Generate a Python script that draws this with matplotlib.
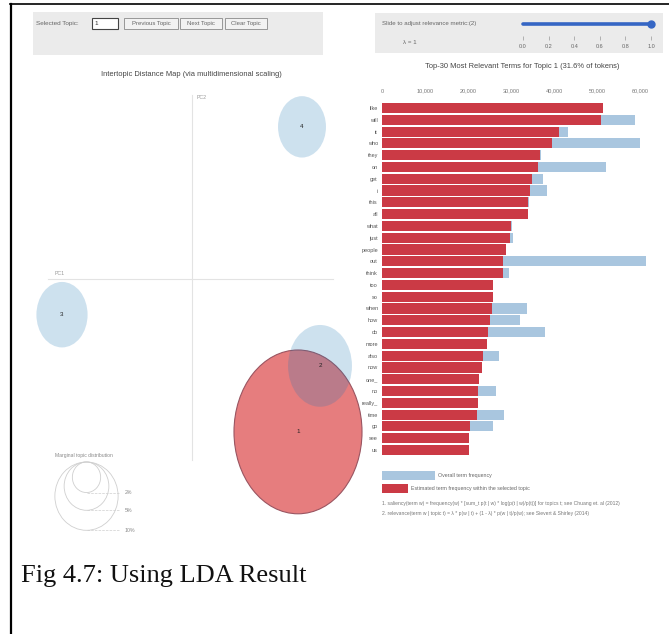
import numpy as np
import matplotlib.pyplot as plt
from matplotlib.patches import Ellipse, Rectangle

# ---------------------------------------------------------------------------
# data
# ---------------------------------------------------------------------------
terms = ["like", "will", "it", "who", "they", "on", "get", "i", "this", "all",
         "what", "just", "people", "out", "think", "too", "so", "when", "how",
         "do", "more", "also", "now", "one_", "no", "really_", "time", "go",
         "see", "us"]
topic_freq = [51400, 50900, 41200, 39500, 36700, 36300, 34900, 34400, 34000,
              33900, 30000, 29800, 28800, 28100, 28100, 25800, 25800, 25600,
              25100, 24700, 24400, 23500, 23300, 22600, 22300, 22300, 22100,
              20500, 20200, 20200]
overall_freq = [51400, 58800, 43300, 60000, 36900, 52100, 37400, 38400, 34100,
                33900, 30200, 30500, 28800, 61400, 29500, 25800, 25800, 33700,
                32100, 37900, 24400, 27200, 23300, 22600, 26500, 22300, 28400,
                25800, 20200, 20200]
freq_ticks = [0, 10000, 20000, 30000, 40000, 50000, 60000]

topic_ids = ["1", "2", "3", "4"]
topic_pc1 = [0.265, 0.32, -0.325, 0.275]
topic_pc2 = [-0.299, -0.170, -0.070, 0.297]
topic_pct = [41.3, 10.3, 6.6, 5.8]
selected_topic = "1"
guide_pct = [2, 5, 10]

lambda_ticks = [0.0, 0.2, 0.4, 0.6, 0.8, 1.0]
lambda_value = 1.0

W, H = 669, 634
GREY_TXT = "#666666"
plt.rcParams["font.family"] = ["Liberation Sans", "DejaVu Sans"]

fig = plt.figure(figsize=(W / 100, H / 100), dpi=100)


def px_axes(x0, y0, x1, y1, **kw):
    """axes placed by pixel box (top-left origin)"""
    return fig.add_axes([x0 / W, 1 - y1 / H, (x1 - x0) / W, (y1 - y0) / H], **kw)


# background canvas in pixel coords
bg = px_axes(0, 0, W, H)
bg.set_xlim(0, W)
bg.set_ylim(H, 0)
bg.axis("off")

# document frame
bg.plot([10.5, 10.5], [4, H], color="black", lw=1.6, clip_on=False)
bg.plot([10, W], [4, 4], color="black", lw=1.2, clip_on=False)

# ---------------------------------------------------------------------------
# control bars
# ---------------------------------------------------------------------------
bg.add_patch(Rectangle((33, 12), 290, 43, fc="#ebebeb", ec="none"))
bg.add_patch(Rectangle((375, 13), 288, 40, fc="#ebebeb", ec="none"))

bg.text(36, 23.5, "Selected Topic:", fontsize=4.6, color=GREY_TXT, va="center")
bg.add_patch(Rectangle((92, 18), 26, 11, fc="white", ec="#444444", lw=0.8))
bg.text(94, 23.5, "1", fontsize=4.6, color="#333333", va="center")
for x0, x1, label in [(124, 178, "Previous Topic"), (180, 222, "Next Topic"),
                      (225, 267, "Clear Topic")]:
    bg.add_patch(Rectangle((x0, 18), x1 - x0, 11, fc="#f2f2f2", ec="#8a8a8a", lw=0.6))
    bg.text((x0 + x1) / 2, 23.5, label, fontsize=4.3, color=GREY_TXT,
            ha="center", va="center")

bg.text(382, 24, "Slide to adjust relevance metric:(2)", fontsize=4.4,
        color=GREY_TXT, va="center")
bg.text(403, 42, "λ = 1", fontsize=4.4, color=GREY_TXT, va="center")

sl = px_axes(523, 16, 651, 36)
sl.set_xlim(0, 1)
sl.set_ylim(0, 1)
sl.patch.set_alpha(0)
for s in sl.spines.values():
    s.set_visible(False)
sl.plot([0, lambda_value], [0.6, 0.6], color="#3566c4", lw=2.6,
        solid_capstyle="round", clip_on=False)
sl.plot([lambda_value], [0.6], "o", color="#3566c4", ms=5, clip_on=False)
sl.set_yticks([])
sl.set_xticks(lambda_ticks)
sl.set_xticklabels([f"{t:.1f}" for t in lambda_ticks])
sl.tick_params(axis="x", length=3, width=0.5, color="#999999", pad=3,
               labelsize=4, labelcolor=GREY_TXT)

# ---------------------------------------------------------------------------
# titles
# ---------------------------------------------------------------------------
bg.text(191, 75, "Intertopic Distance Map (via multidimensional scaling)",
        fontsize=5.4, color="#444444", ha="center", va="center")
bg.text(522, 66, "Top-30 Most Relevant Terms for Topic 1 (31.6% of tokens)",
        fontsize=5.4, color="#444444", ha="center", va="center")

# ---------------------------------------------------------------------------
# intertopic distance map
# ---------------------------------------------------------------------------
mds = px_axes(12, 90, 372, 545)
mds.set_xlim(-0.45, 0.45)
mds.set_ylim(-0.52, 0.369)
mds.axis("off")
mds.plot([-0.36, 0.3525], [0, 0], color="#e3e3e3", lw=0.8)
mds.plot([0, 0], [-0.354, 0.359], color="#e3e3e3", lw=0.8)
mds.text(-0.343, 0.006, "PC1", fontsize=3.8, color="#999999", va="bottom")
mds.text(0.012, 0.355, "PC2", fontsize=3.8, color="#999999", va="center")

radius = [0.0249 * np.sqrt(p) for p in topic_pct]
order = sorted(range(len(topic_ids)), key=lambda i: topic_ids[i] != selected_topic)
for i in order:
    if topic_ids[i] == selected_topic:
        fc, ec, z = (0.84, 0.15, 0.16, 0.6), "#9a5561", 2
    else:
        fc, ec, z = (0.12, 0.47, 0.71, 0.22), "none", 3
    mds.add_patch(Ellipse((topic_pc1[i], topic_pc2[i]), 2 * radius[i], 2 * radius[i],
                          fc=fc, ec=ec, lw=0.8, zorder=z, clip_on=False))
for i, tid in enumerate(topic_ids):
    mds.text(topic_pc1[i], topic_pc2[i], tid, fontsize=4.5, color="#222222",
             ha="center", va="center", zorder=5)

# circle guide
bg.text(84, 455, "Marginal topic distribution", fontsize=3.6, color="#888888",
        ha="center", va="center")
for p in guide_pct:
    rh = 10 * np.sqrt(p)
    rv = 1.08 * rh
    bg.add_patch(Ellipse((86.5, 462 + rv), 2 * rh, 2 * rv, fill=False,
                         ec="#cfcfcf", lw=0.6))
    bg.plot([86.5, 119], [462 + 2 * rv] * 2, color="#cfcfcf", lw=0.5, ls="--")
    bg.text(125, 462 + 2 * rv, f"{p}%", fontsize=3.8, color="#888888", va="center")

# ---------------------------------------------------------------------------
# relevant terms bar chart
# ---------------------------------------------------------------------------
bx = px_axes(382, 102.1, 648.6, 455.9)
bx.patch.set_alpha(0)
y = np.arange(len(terms))
bx.barh(y, overall_freq, height=0.86, color="#a9c6df")
bx.barh(y, topic_freq, height=0.86, color="#cb3a45")
bx.set_xlim(0, 62000)
bx.set_ylim(len(terms) - 0.5, -0.5)
bx.set_yticks(y)
bx.set_yticklabels(terms)
bx.xaxis.tick_top()
bx.set_xticks(freq_ticks)
bx.set_xticklabels([f"{t:,}" for t in freq_ticks])
bx.tick_params(axis="x", length=0, pad=6, labelsize=4, labelcolor="#777777")
bx.tick_params(axis="y", length=0, pad=3, labelsize=4, labelcolor="#555555")
for s in bx.spines.values():
    s.set_visible(False)

# legend + footnotes
bg.add_patch(Rectangle((382, 471), 53, 9, fc="#a9c6df", ec="none"))
bg.text(438, 475.5, "Overall term frequency", fontsize=3.8, color=GREY_TXT, va="center")
bg.add_patch(Rectangle((382, 484), 26, 9, fc="#cb3a45", ec="none"))
bg.text(411, 488.5, "Estimated term frequency within the selected topic",
        fontsize=3.8, color=GREY_TXT, va="center")
bg.text(382, 503, "1. saliency(term w) = frequency(w) * [sum_t p(t | w) * "
        "log(p(t | w)/p(t))] for topics t; see Chuang et. al (2012)",
        fontsize=3.6, color="#777777", va="center")
bg.text(382, 513, "2. relevance(term w | topic t) = λ * p(w | t) + (1 - λ) * "
        "p(w | t)/p(w); see Sievert & Shirley (2014)",
        fontsize=3.6, color="#777777", va="center")

# caption
bg.text(21, 582, "Fig 4.7: Using LDA Result", fontsize=19,
        family=["Liberation Serif", "DejaVu Serif"], color="#111111", va="baseline")

fig.savefig("out.png", dpi=100)
